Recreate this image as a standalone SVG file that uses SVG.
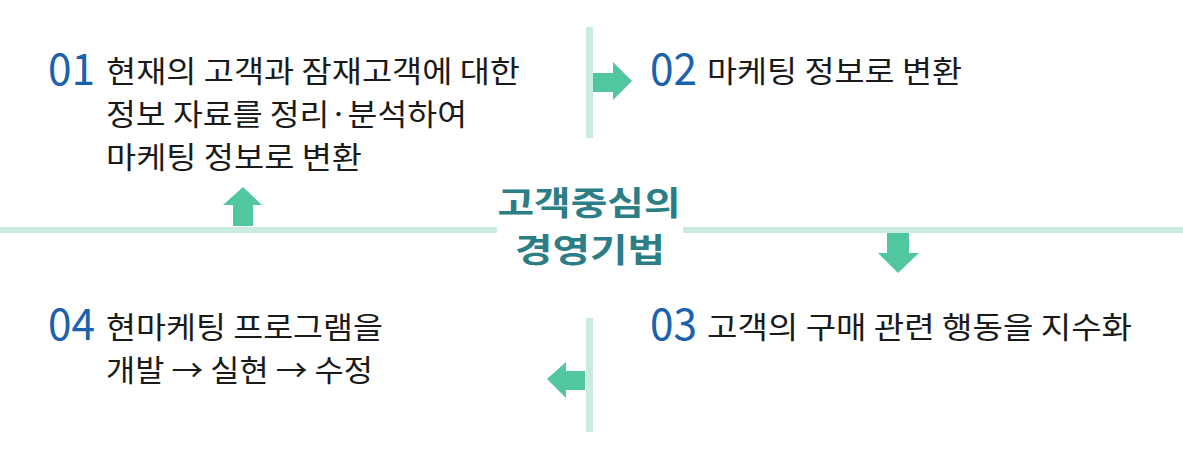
<svg xmlns="http://www.w3.org/2000/svg" width="1183" height="451" viewBox="0 0 1183 451">
<style>
.line{fill:#c9ecdf}
.arr{fill:#50c6a1}
.num{font-family:"Noto Sans CJK KR","Noto Sans",sans-serif;font-size:44px;fill:#1b62ad}
.txt{font-family:"Noto Sans CJK KR","Noto Sans",sans-serif;font-size:29.6px;fill:#1a1a1a}
.title{font-family:"Noto Sans CJK KR","Noto Sans",sans-serif;font-size:33px;font-weight:bold;fill:#2c7e86;text-anchor:middle}
</style>
<rect width="1183" height="451" fill="#ffffff"/>
<g id="connectors">
  <rect class="line" x="0" y="227" width="497" height="6"/>
  <rect class="line" x="683" y="227" width="500" height="6"/>
  <rect class="line" x="586" y="27" width="7" height="111"/>
  <rect class="line" x="586" y="318" width="7" height="114"/>
  <polygon class="arr" points="593,73 613,73 613,62 632,81 613,100 613,92 593,92"/>
  <polygon class="arr" points="233,226 233,205 223,205 243,187 262,205 253,205 253,226"/>
  <polygon class="arr" points="887,233 909,233 909,253 919,253 898,273 878,253 887,253"/>
  <polygon class="arr" points="585,371 566,371 566,362 547,379 566,398 566,390 585,390"/>
</g>
<g id="center">
  <text class="title" x="589" y="215" textLength="183" lengthAdjust="spacingAndGlyphs">고객중심의</text>
  <text class="title" x="590" y="262" textLength="150" lengthAdjust="spacingAndGlyphs">경영기법</text>
</g>
<g id="step01">
  <text class="num" x="48" y="85" textLength="47" lengthAdjust="spacingAndGlyphs">01</text>
  <text class="txt" x="106" y="82" textLength="414" lengthAdjust="spacingAndGlyphs">현재의 고객과 잠재고객에 대한</text>
  <text class="txt" x="106" y="125" textLength="361" lengthAdjust="spacingAndGlyphs">정보 자료를 정리·분석하여</text>
  <text class="txt" x="106" y="168" textLength="256" lengthAdjust="spacingAndGlyphs">마케팅 정보로 변환</text>
</g>
<g id="step02">
  <text class="num" x="650" y="85" textLength="47" lengthAdjust="spacingAndGlyphs">02</text>
  <text class="txt" x="707" y="82" textLength="255" lengthAdjust="spacingAndGlyphs">마케팅 정보로 변환</text>
</g>
<g id="step03">
  <text class="num" x="650" y="340" textLength="47" lengthAdjust="spacingAndGlyphs">03</text>
  <text class="txt" x="707" y="338" textLength="425" lengthAdjust="spacingAndGlyphs">고객의 구매 관련 행동을 지수화</text>
</g>
<g id="step04">
  <text class="num" x="48" y="340" textLength="47" lengthAdjust="spacingAndGlyphs">04</text>
  <text class="txt" x="106" y="338" textLength="277" lengthAdjust="spacingAndGlyphs">현마케팅 프로그램을</text>
  <text class="txt" x="106" y="381" textLength="267" lengthAdjust="spacingAndGlyphs">개발 → 실현 → 수정</text>
</g>
</svg>
